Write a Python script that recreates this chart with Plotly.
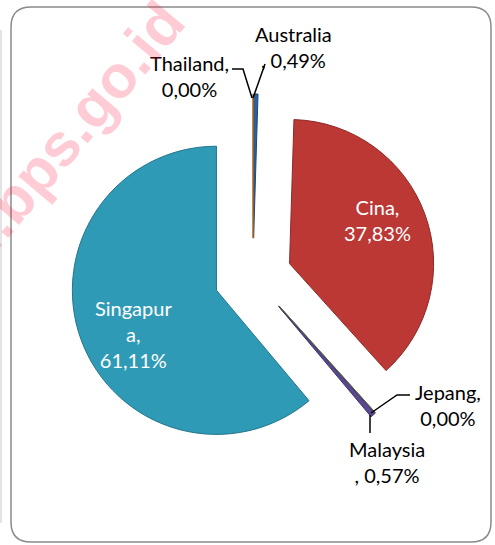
import plotly.graph_objects as go

# ---- data ----
countries = ["Australia", "Cina", "Jepang", "Malaysia", "Singapura", "Thailand"]
shares = [0.49, 37.83, 0.00, 0.57, 61.11, 0.00]
colors = ["#2b5f9e", "#bb3834", "#7f9a48", "#5a4790", "#2f9ab6", "#e08a2c"]
edge_colors = ["#1f4677", "#8f2826", "#5f7536", "#3f3168", "#23758b", "#a8661f"]

W, H = 495, 545
ML, MR, MT, MB = 70, 59, 94, 85
PW, PH = W - ML - MR, H - MT - MB


def px(x):
    return (x - ML) / PW


def py(y):
    return (H - MB - y) / PH


def fmt(v):
    return f"{v:.2f}".replace(".", ",")


fig = go.Figure()
fig.add_trace(go.Pie(
    labels=countries,
    values=shares,
    sort=False,
    direction="clockwise",
    rotation=0,
    pull=[0.27] * len(shares),
    marker=dict(colors=colors, line=dict(color=edge_colors, width=1)),
    textinfo="none",
    hoverinfo="label+percent",
    showlegend=False,
    domain=dict(x=[0, 1], y=[0, 1]),
))

FONT = "Lato, 'Open Sans', sans-serif"
FS = 20

# label texts (built from data) and their positions
label_text = {
    "Thailand": f"Thailand,<br>{fmt(shares[5])}%",
    "Australia": f"Australia<br>, {fmt(shares[0])}%",
    "Cina": f"Cina,<br>{fmt(shares[1])}%",
    "Singapura": f"Singapur<br>a,<br>{fmt(shares[4])}%",
    "Jepang": f"Jepang,<br>{fmt(shares[2])}%",
    "Malaysia": f"Malaysia<br>, {fmt(shares[3])}%",
}
label_pos = {
    "Thailand": (189, 76, "black"),
    "Australia": (293, 47, "black"),
    "Cina": (377, 220, "white"),
    "Singapura": (133, 334, "white"),
    "Jepang": (448, 405, "black"),
    "Malaysia": (387, 462, "black"),
}

annotations = []
for name, (x, y, c) in label_pos.items():
    annotations.append(dict(
        x=px(x), y=py(y), xref="paper", yref="paper",
        text=label_text[name], showarrow=False,
        xanchor="center", yanchor="middle", align="center",
        font=dict(family=FONT, size=FS, color=c),
    ))

# watermark
annotations.append(dict(
    x=px(36), y=py(172), xref="paper", yref="paper",
    text="<b>www.bps.go.id</b>", showarrow=False, textangle=-50,
    xanchor="center", yanchor="middle",
    font=dict(family="Liberation Sans, Arial, sans-serif", size=60,
              color="rgba(255,20,60,0.22)"),
))


def path(points):
    return "M" + " L".join(f"{px(a):.5f},{py(b):.5f}" for a, b in points)


leader_lines = [
    [(232, 69), (243, 69), (252, 98)],
    [(265, 64), (253, 98)],
    [(410, 395), (397, 395), (371, 413)],
    [(370, 415), (370, 433)],
]
shapes = [dict(type="path", xref="paper", yref="paper", path=path(p),
               line=dict(color="black", width=1.5)) for p in leader_lines]

# rounded frame
x0, y0, x1, y1, r = 11, 7, 491, 542, 20
frame = (f"M{px(x0 + r)},{py(y0)} L{px(x1 - r)},{py(y0)} "
         f"Q{px(x1)},{py(y0)} {px(x1)},{py(y0 + r)} "
         f"L{px(x1)},{py(y1 - r)} Q{px(x1)},{py(y1)} {px(x1 - r)},{py(y1)} "
         f"L{px(x0 + r)},{py(y1)} Q{px(x0)},{py(y1)} {px(x0)},{py(y1 - r)} "
         f"L{px(x0)},{py(y0 + r)} Q{px(x0)},{py(y0)} {px(x0 + r)},{py(y0)} Z")
shapes.append(dict(type="path", xref="paper", yref="paper", path=frame,
                   line=dict(color="#8a8a8a", width=1.5), layer="below"))
shapes.append(dict(type="line", xref="paper", yref="paper",
                   x0=px(1), x1=px(1), y0=py(30), y1=py(523),
                   line=dict(color="#c8c8c8", width=1), layer="below"))

fig.update_layout(
    width=W, height=H,
    margin=dict(l=ML, r=MR, t=MT, b=MB),
    paper_bgcolor="white", plot_bgcolor="white",
    annotations=annotations, shapes=shapes,
    showlegend=False,
)

fig.write_html(
    "out.html",
    config={"displayModeBar": False},
    post_script="document.body.style.margin='0';document.body.style.padding='0';",
)
